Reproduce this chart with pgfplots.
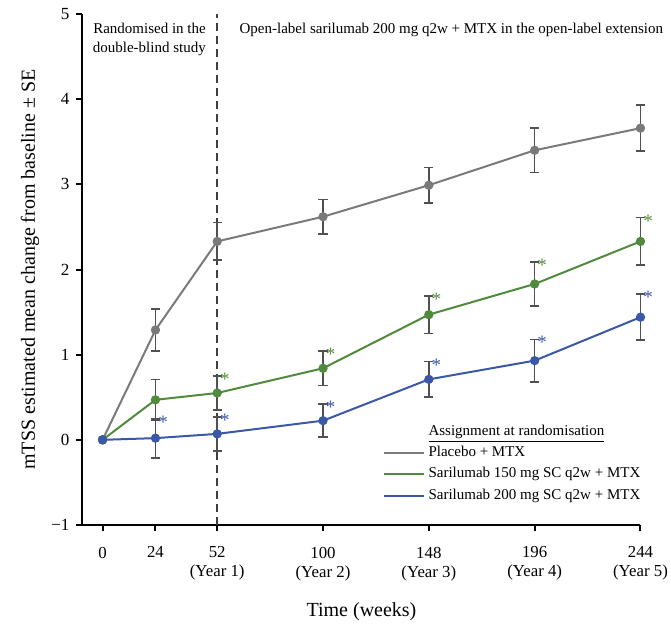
\documentclass[border=0pt]{standalone}
\usepackage{pgfplots}
\pgfplotsset{compat=1.18}
\usepackage{fontspec}
\setmainfont{Liberation Serif}
\definecolor{plgray}{RGB}{122,122,122}
\definecolor{sgreen}{RGB}{80,138,60}
\definecolor{sblue}{RGB}{58,88,166}
\definecolor{errgray}{RGB}{80,80,80}
\begin{document}
\begin{tikzpicture}
\useasboundingbox (-41.25pt,-49pt) rectangle (294.25pt,262.5pt);
\begin{axis}[
  at={(0,0)}, anchor=south west,
  scale only axis,
  width=279pt, height=255.5pt,
  xmin=-9.1, xmax=244, ymin=-1, ymax=5,
  clip=false,
  axis lines=left,
  axis line style={-, line width=1pt, black},
  tick align=outside,
  major tick length=3pt,
  tick style={line width=1pt, black},
  xtick={0,24,52,100,148,196,244},
  xticklabels={0,24,52\\(Year 1),100\\(Year 2),148\\(Year 3),196\\(Year 4),244\\(Year 5)},
  xticklabel style={align=center, font=\fontsize{8.4pt}{9.5pt}\selectfont, anchor=north, yshift=-4.4pt},
  ytick={-1,0,1,2,3,4,5},
  yticklabels={−1,0,1,2,3,4,5},
  yticklabel style={font=\fontsize{8.5pt}{9.5pt}\selectfont},
  xlabel={Time (weeks)},
  xlabel style={at={(axis description cs:0.5,-0.170)}, anchor=center, font=\fontsize{10pt}{12pt}\selectfont},
  ylabel={mTSS estimated mean change from baseline ± SE},
  ylabel style={at={(axis description cs:-0.094,0.5)}, anchor=center, font=\fontsize{10pt}{12pt}\selectfont},
  legend style={at={(axis description cs:0.537,0.205)}, anchor=north west, draw=none, fill=none,
    font=\fontsize{7.5pt}{9pt}\selectfont, row sep=0pt, inner sep=0pt,
    /tikz/every even column/.append style={column sep=4pt}},
  legend cell align=left,
]
% dashed separator
\addplot[forget plot, color=black!75, line width=0.75pt, dash pattern=on 4pt off 2.5pt] coordinates {(52,-1) (52,5)};

% error bars (drawn beneath lines)
\addplot[forget plot, draw=none, mark=none,
  error bars/.cd, y dir=both, y explicit,
  error bar style={draw=errgray, line width=0.8pt, solid},
  error mark options={rotate=90, draw=errgray, mark size=2.3pt, line width=0.8pt}]
  coordinates {(24,1.29) +- (0,0.245) (52,2.33) +- (0,0.22) (100,2.62) +- (0,0.20) (148,2.99) +- (0,0.21) (196,3.40) +- (0,0.26) (244,3.66) +- (0,0.27)};
\addplot[forget plot, draw=none, mark=none,
  error bars/.cd, y dir=both, y explicit,
  error bar style={draw=errgray, line width=0.8pt, solid},
  error mark options={rotate=90, draw=errgray, mark size=2.3pt, line width=0.8pt}]
  coordinates {(24,0.47) +- (0,0.24) (52,0.55) +- (0,0.20) (100,0.84) +- (0,0.20) (148,1.47) +- (0,0.22) (196,1.83) +- (0,0.26) (244,2.33) +- (0,0.28)};
\addplot[forget plot, draw=none, mark=none,
  error bars/.cd, y dir=both, y explicit,
  error bar style={draw=errgray, line width=0.8pt, solid},
  error mark options={rotate=90, draw=errgray, mark size=2.3pt, line width=0.8pt}]
  coordinates {(24,0.02) +- (0,0.23) (52,0.07) +- (0,0.20) (100,0.225) +- (0,0.195) (148,0.71) +- (0,0.21) (196,0.93) +- (0,0.25) (244,1.44) +- (0,0.27)};

% empty legend title
\addlegendimage{empty legend}
\addlegendentry{\underline{Assignment at randomisation}}

% main lines
\addplot[color=plgray, line width=1pt, mark=*, mark size=1.8pt, mark options={solid, fill=plgray, draw=plgray},
  legend image code/.code={\draw[plgray, line width=1pt] (0pt,0pt) -- (20pt,0pt);}]
  coordinates {(0,0) (24,1.29) (52,2.33) (100,2.62) (148,2.99) (196,3.40) (244,3.66)};
\addlegendentry{Placebo + MTX}
\addplot[color=sgreen, line width=1pt, mark=*, mark size=1.8pt, mark options={solid, fill=sgreen, draw=sgreen},
  legend image code/.code={\draw[sgreen, line width=1pt] (0pt,0pt) -- (20pt,0pt);}]
  coordinates {(0,0) (24,0.47) (52,0.55) (100,0.84) (148,1.47) (196,1.83) (244,2.33)};
\addlegendentry{Sarilumab 150 mg SC q2w + MTX}
\addplot[color=sblue, line width=1pt, mark=*, mark size=1.8pt, mark options={solid, fill=sblue, draw=sblue},
  legend image code/.code={\draw[sblue, line width=1pt] (0pt,0pt) -- (20pt,0pt);}]
  coordinates {(0,0) (24,0.02) (52,0.07) (100,0.225) (148,0.71) (196,0.93) (244,1.44)};
\addlegendentry{Sarilumab 200 mg SC q2w + MTX}

% significance asterisks at upper error caps
\addplot[forget plot, draw=none, mark=none, nodes near coords={*},
  every node near coord/.append style={anchor=base west, text=sgreen, xshift=1.2pt, yshift=-4.8pt, inner sep=0pt, font=\fontsize{9.5pt}{10pt}\selectfont}]
  coordinates {(52,0.75) (100,1.04) (148,1.69) (196,2.09) (244,2.61)};
\addplot[forget plot, draw=none, mark=none, nodes near coords={*},
  every node near coord/.append style={anchor=base west, text=sblue, xshift=1.2pt, yshift=-4.8pt, inner sep=0pt, font=\fontsize{9.5pt}{10pt}\selectfont}]
  coordinates {(24,0.25) (52,0.27) (100,0.42) (148,0.92) (196,1.18) (244,1.71)};

% header annotations
\node[anchor=north east, align=right, inner sep=0pt, font=\fontsize{7.5pt}{9.5pt}\selectfont] at (axis cs:47,4.9) {Randomised in the\\double-blind study};
\node[anchor=north west, align=left, inner sep=0pt, font=\fontsize{7.5pt}{9.5pt}\selectfont] at (axis cs:62,4.9) {Open-label sarilumab 200 mg q2w + MTX in the open-label extension};
\end{axis}
\end{tikzpicture}
\end{document}
